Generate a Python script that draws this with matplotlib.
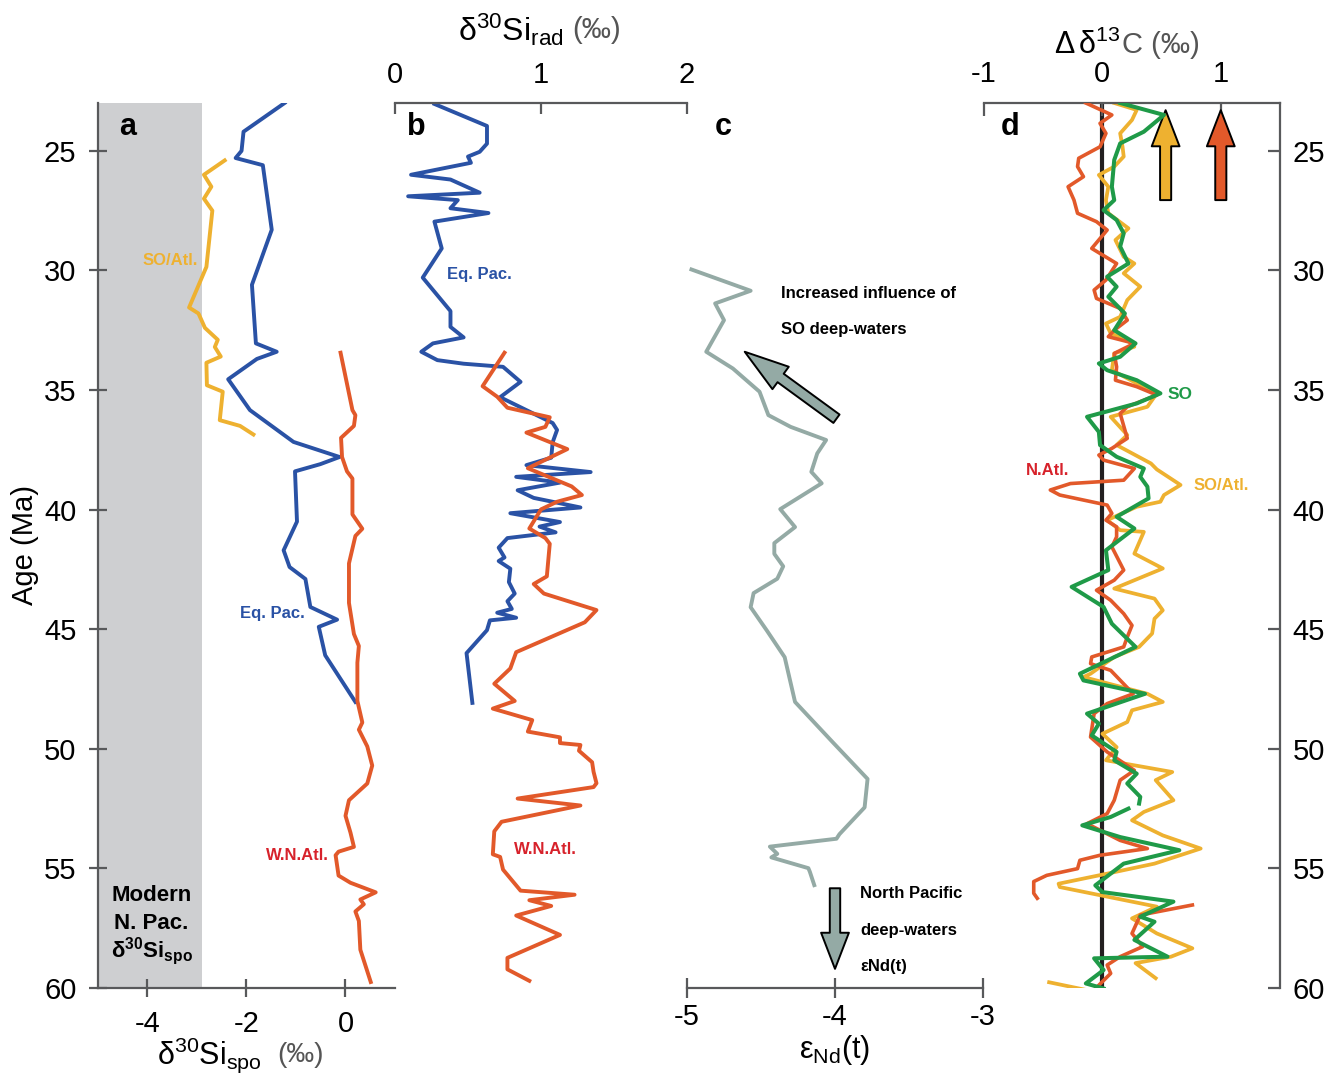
import numpy as np
import matplotlib
matplotlib.use("Agg")
import matplotlib.pyplot as plt

nan = np.nan

# ---- panel a : d30Si spo ----
a_pac_age = [23.0, 24.2, 25.0, 25.3, 25.6, 28.3, 30.6, 33.05, 33.4, 33.7, 34.55, 35.84, 37.17, 37.8,
             38.1, 38.4, 40.5, 41.7, 42.4, 42.9, 44.07, 44.6, 44.9, 46.09, 48.04]
a_pac_val = [-1.23, -2.06, -2.10, -2.22, -1.67, -1.49, -1.89, -1.81, -1.39, -1.79, -2.37, -1.93, -1.05, -0.12,
             -0.51, -1.02, -0.98, -1.25, -1.13, -0.81, -0.71, -0.17, -0.54, -0.41, 0.20]

a_so_age = [25.4, 26.0, 26.5, 27.0, 27.5, 29.85, 31.55, 31.8, 32.4, 32.9, 33.2, 33.6, 33.86, 34.8,
            35.07, 36.26, 36.5, 36.86]
a_so_val = [-2.44, -2.86, -2.71, -2.86, -2.69, -2.81, -3.16, -2.97, -2.84, -2.58, -2.64, -2.52, -2.81, -2.80,
            -2.48, -2.54, -2.13, -1.86]

a_atl_age = [33.44, 35.84, 36.05, 36.5, 37.0, 37.8, 38.4, 38.7, 40.2, 40.8, 41.1, 42.25, 43.9, 45.2,
             45.7, 46.4, 48.0, 48.9, 49.2, 49.9, 50.7, 51.45, 52.15, 52.8, 53.5, 54.1, 54.3, 54.45,
             55.3, 55.6, 56.0, 56.3, 56.5, 56.8, 57.2, 58.4, 59.75]
a_atl_val = [-0.10, 0.14, 0.20, 0.17, -0.09, -0.07, 0.03, 0.14, 0.14, 0.34, 0.20, 0.07, 0.07, 0.17,
             0.27, 0.24, 0.24, 0.34, 0.27, 0.44, 0.54, 0.44, 0.07, 0.00, 0.10, 0.17, -0.14, -0.20,
             -0.14, 0.10, 0.61, 0.30, 0.37, 0.20, 0.27, 0.30, 0.51]

modern_npac = (-5.0, -2.9)

# ---- panel b : d30Si rad ----
b_pac_age = [23.04, 23.96, 24.7, 25.04, 25.24, 25.5, 26.0, 26.2, 26.75, 26.9, 27.06, 27.4, 27.6, 27.96,
             29.08, 30.3, 31.7, 32.36, 32.8, 33.05, 33.4, 33.75, 33.9, 34.03, 34.66, 35.3, 36.38, 36.67,
             37.18, 37.83, 38.14, 38.43, 38.63, 38.87, 39.19, 39.51, 39.91, 40.15, 40.52, 40.71, 40.95,
             41.19, 41.59, 42.0, 42.15, 42.47, 43.03, 43.51, 43.83, 44.15, 44.31, 44.52, 44.63, 45.04,
             46.0, 48.08]
b_pac_val = [0.27, 0.63, 0.63, 0.58, 0.50, 0.52, 0.11, 0.38, 0.58, 0.09, 0.43, 0.38, 0.64, 0.27,
             0.32, 0.19, 0.38, 0.38, 0.47, 0.26, 0.18, 0.29, 0.47, 0.74, 0.86, 0.72, 1.08, 1.11,
             1.08, 1.07, 0.90, 1.34, 0.83, 1.13, 0.84, 0.95, 1.27, 0.79, 1.13, 0.99, 1.10,
             0.77, 0.71, 0.75, 0.71, 0.79, 0.78, 0.82, 0.77, 0.80, 0.70, 0.83, 0.65, 0.63,
             0.49, 0.53]

b_atl_age = [33.44, 34.84, 35.28, 35.74, 36.14, 36.54, 36.78, 37.47, 38.27, 39.03, 39.39, 39.67, 39.99,
             40.39, 40.79, 41.19, 41.43, 42.79, 43.11, 43.51, 44.2, 44.71, 45.96, 46.64, 47.28, 48.0,
             48.32, 48.8, 49.28, 49.52, 49.76, 49.84, 50.08, 50.56, 50.96, 51.44, 51.6, 52.08, 52.37,
             53.05, 53.45, 54.41, 54.52, 55.05, 55.93, 56.1, 56.33, 56.57, 56.97, 57.78, 58.74, 59.22,
             59.7]
b_atl_val = [0.75, 0.60, 0.70, 0.77, 1.06, 1.03, 0.90, 1.18, 0.91, 1.21, 1.28, 1.11, 1.00,
             0.96, 0.92, 1.03, 1.06, 1.04, 0.95, 1.02, 1.38, 1.30, 0.83, 0.79, 0.68, 0.82,
             0.67, 0.94, 0.91, 1.13, 1.13, 1.27, 1.26, 1.35, 1.36, 1.38, 1.36, 0.84, 1.27,
             0.73, 0.68, 0.67, 0.72, 0.74, 0.86, 1.23, 0.92, 1.07, 0.83, 1.13, 0.77, 0.77,
             0.92]

# ---- panel c : eNd ----
c_age = [29.96, 30.85, 31.38, 32.08, 33.4, 34.1, 35.07, 36.05, 36.54, 37.09, 37.65, 38.42, 38.9, 39.98,
         40.73, 41.4, 41.85, 42.37, 42.89, 43.49, 44.08, 45.06, 46.17, 48.04, 49.76, 51.26, 52.45,
         53.57, 53.76, 54.09, 54.39, 54.54, 54.99, 55.14, 55.7]
c_val = [-4.97, -4.57, -4.81, -4.75, -4.87, -4.69, -4.51, -4.45, -4.30, -4.06, -4.12, -4.16, -4.09, -4.37,
         -4.27, -4.41, -4.41, -4.35, -4.39, -4.55, -4.57, -4.46, -4.34, -4.27, -4.01, -3.78, -3.80,
         -3.97, -3.99, -4.44, -4.39, -4.43, -4.18, -4.17, -4.14]

# ---- panel d : delta d13C ----
d_natl_age = [23.0, 23.5, 23.85, 24.27, 24.83, 25.31, 25.66, 26.08, 26.5, 27.06, 27.61, 27.96, 28.31,
              29.08, 29.29, 29.71, 30.4, 30.82, 31.17, 31.59, 32.08, 32.5, 32.77, 33.05, 33.47, 34.03,
              34.59, 34.86, 35.21, 35.70, 35.98, 37.02, 37.44, 37.72, 37.93, 38.28, 38.77, 38.91, 39.18,
              39.39, 39.81, 40.16, 40.44, 40.72, 41.14, 41.56, 42.53, 42.95, 43.37, 43.79, 44.35, 44.84,
              45.33, 45.74, 46.16, 46.44, 46.72, 47.7, 48.11, 48.53, 49.51, 50.13, 50.90, 51.31, 52.15,
              52.71, 53.13, 53.83, 54.17, 54.45, 54.66, 55.01, 55.29, 55.55, 56.04, 56.25, nan, 56.53,
              56.95, 57.72, 58.27, 58.69, 59.04, 59.39, 60.03]
d_natl_val = [-0.14, 0.08, -0.02, 0.03, -0.02, -0.20, -0.21, -0.16, -0.29, -0.24, -0.21, -0.05, 0.04,
              -0.09, -0.02, 0.12, 0.03, -0.07, -0.05, 0.15, 0.21, 0.10, 0.05, 0.27, 0.10, 0.12,
              0.11, 0.29, 0.46, 0.21, 0.15, 0.21, 0.08, -0.03, 0.01, 0.27, 0.18, -0.27, -0.44,
              -0.36, 0.04, 0.08, 0.03, 0.12, 0.12, 0.08, 0.18, 0.10, -0.05, 0.07, 0.18, 0.25,
              0.21, 0.18, -0.09, -0.10, 0.07, 0.26, 0.04, -0.07, -0.10, 0.04, 0.27, 0.15, 0.10,
              0.04, -0.13, 0.15, 0.38, -0.02, -0.19, -0.21, -0.47, -0.58, -0.58, -0.55, nan, 0.76,
              0.32, 0.25, 0.34, 0.15, 0.04, 0.07, -0.06]

d_soatl_age = [23.0, 23.29, 23.71, 24.27, 24.83, 25.24, 25.66, 26.01, 26.5, 27.06, 27.61, 28.24, 28.73,
               29.43, 29.71, 30.12, 30.68, 31.24, 31.94, 32.22, 32.63, 32.91, 33.19, 33.47, 34.17, 34.72,
               35.14, 35.7, 36.12, 36.88, 37.3, 38.07, 38.32, 38.97, 39.39, 39.67, 39.88, 40.44, 40.86,
               40.93, 41.84, 42.46, 43.30, 43.72, 44.21, 44.56, 45.18, 45.74, 46.16, 46.86, 47.0, 47.7,
               48.04, 48.39, 48.88, 49.37, 49.93, 50.48, 50.97, 51.31, 52.15, 52.64, 52.99, 53.62, 54.17,
               54.80, 55.22, 55.64, 55.78, 56.18, 56.60, 57.09, 57.72, 58.34, 58.69, 58.96, 59.59, nan,
               59.76, 60.1]
d_soatl_val = [0.10, 0.29, 0.25, 0.15, 0.17, 0.18, 0.10, -0.03, 0.05, 0.03, 0.05, 0.22, 0.11,
               0.18, 0.27, 0.18, 0.32, 0.21, 0.15, 0.03, 0.07, 0.21, 0.27, 0.10, 0.08, 0.29,
               0.46, 0.38, 0.07, 0.21, 0.12, 0.41, 0.46, 0.66, 0.52, 0.49, 0.29, 0.04, 0.15,
               0.35, 0.27, 0.51, 0.10, 0.44, 0.51, 0.44, 0.42, 0.31, 0.10, -0.10, -0.16, 0.38,
               0.51, 0.25, 0.21, 0.00, 0.12, 0.03, 0.59, 0.45, 0.60, 0.35, 0.25, 0.51, 0.83,
               0.44, 0.04, -0.37, -0.36, 0.04, 0.46, 0.25, 0.46, 0.76, 0.58, 0.28, 0.45, nan,
               -0.45, -0.12]

d_so_age = [23.0, 23.5, 24.2, 24.69, 25.38, 26.5, 27.06, 27.48, 27.89, 28.45, 29.0, 29.71, 30.26, 30.68,
            31.1, 31.8, 32.5, 33.05, 33.61, 33.89, 34.17, 34.59, 35.14, 35.56, 36.12, 36.75, 37.3, 37.79,
            38.28, 38.63, 39.04, 39.53, 40.3, 40.79, 41.7, 42.53, 43.23, 44.07, 44.77, 45.74, 46.86,
            47.14, 47.7, 48.53, 48.95, 49.44, 50.13, 50.48, 51.04, 51.45, 52.01, 52.29, nan, 52.5, 52.85,
            53.2, 53.69, 54.24, 54.8, 55.71, 55.99, 56.39, 57.02, 57.23, 57.99, 58.69, 58.76, 59.25,
            59.81, 60.02]
d_so_val = [0.15, 0.52, 0.35, 0.15, 0.10, 0.08, 0.10, 0.01, 0.12, 0.18, 0.15, 0.22, 0.04, 0.12,
            0.05, 0.19, 0.10, 0.28, 0.15, -0.03, 0.04, 0.29, 0.49, 0.29, -0.13, -0.03, -0.02, 0.12,
            0.35, 0.32, 0.38, 0.39, 0.12, 0.27, 0.03, 0.05, -0.26, 0.01, 0.08, 0.28, -0.19,
            -0.16, 0.36, -0.13, -0.03, -0.09, 0.12, 0.10, 0.29, 0.21, 0.32, 0.31, nan, 0.22, 0.07,
            -0.17, 0.15, 0.65, 0.18, -0.06, 0.00, 0.60, 0.32, 0.44, 0.27, 0.55, -0.07, 0.01,
            -0.14, 0.01]

age_ticks = [25, 30, 35, 40, 45, 50, 55, 60]

# colours
BLUE = '#2A52A5'
ORANGE = '#E2592A'
YELLOW = '#EEB130'
GREEN = '#1F9A48'
TEAL = '#94AAA5'
RED = '#D7222B'
SHADE = '#CECFD1'
SPINE = '#58595B'

plt.rcParams['font.family'] = ['Liberation Sans', 'DejaVu Sans']
plt.rcParams['font.size'] = 20
plt.rcParams['mathtext.fontset'] = 'custom'
plt.rcParams['mathtext.rm'] = 'Liberation Sans'
plt.rcParams['mathtext.it'] = 'Liberation Sans:italic'
plt.rcParams['mathtext.bf'] = 'Liberation Sans:bold'

W, H = 1332, 1080
fig = plt.figure(figsize=(W / 100, H / 100), dpi=100)


def px_axes(x0, x1, y0=103, y1=988):
    return fig.add_axes([x0 / W, 1 - y1 / H, (x1 - x0) / W, (y1 - y0) / H])


def fig_text(x, y, s, **kw):
    fig.text(x / W, 1 - y / H, s, **kw)


def clean(ax, keep):
    for side in ['left', 'right', 'top', 'bottom']:
        ax.spines[side].set_visible(side in keep)
        ax.spines[side].set_color(SPINE)
        ax.spines[side].set_linewidth(1.6)
    ax.patch.set_visible(False)
    ax.set_ylim(60, 23)


# ---- a ----
ax_a = px_axes(98, 395)
clean(ax_a, ['left', 'bottom'])
ax_a.set_xlim(-5, 1)
ax_a.axvspan(*modern_npac, color=SHADE, lw=0, zorder=0)
ax_a.plot(a_so_val, a_so_age, color=YELLOW, lw=2.8)
ax_a.plot(a_pac_val, a_pac_age, color=BLUE, lw=2.8)
ax_a.plot(a_atl_val, a_atl_age, color=ORANGE, lw=2.8)
ax_a.set_xticks([-4, -2, 0])
ax_a.set_xticklabels(['-4', '-2', '0'])
ax_a.set_yticks(age_ticks)
ax_a.tick_params(axis='both', direction='inout', length=13, width=1.6, color=SPINE, labelsize=21)
ax_a.tick_params(axis='x', pad=9)
ax_a.tick_params(axis='y', pad=9)
ax_a.text(-4.41, 24.0, 'a', fontsize=22, fontweight='bold', ha='center', va='center')
ax_a.text(-3.55, 29.6, 'SO/Atl.', color=YELLOW, fontsize=12, fontweight='bold', ha='center', va='center')
ax_a.text(-1.48, 44.33, 'Eq. Pac.', color=BLUE, fontsize=12, fontweight='bold', ha='center', va='center')
ax_a.text(-0.97, 54.45, 'W.N.Atl.', color=RED, fontsize=12, fontweight='bold', ha='center', va='center')
ax_a.text(-3.92, 56.12, 'Modern', fontsize=16, fontweight='bold', ha='center', va='center')
ax_a.text(-3.92, 57.29, 'N. Pac.', fontsize=16, fontweight='bold', ha='center', va='center')
ax_a.text(-3.92, 58.47, r'$\mathbf{δ^{30}Si_{spo}}$', fontsize=16,
          ha='center', va='center')

# ---- b ----
ax_b = px_axes(395, 687)
clean(ax_b, ['top'])
ax_b.set_xlim(0, 2)
ax_b.plot(b_pac_val, b_pac_age, color=BLUE, lw=2.8)
ax_b.plot(b_atl_val, b_atl_age, color=ORANGE, lw=2.8)
ax_b.xaxis.tick_top()
ax_b.set_xticks([0, 1, 2])
ax_b.set_yticks([])
ax_b.tick_params(axis='x', direction='in', length=8, width=1.6, color=SPINE, pad=10, labelsize=21)
ax_b.text(0.144, 24.0, 'b', fontsize=22, fontweight='bold', ha='center', va='center')
ax_b.text(0.577, 30.19, 'Eq. Pac.', color=BLUE, fontsize=12, fontweight='bold', ha='center', va='center')
ax_b.text(1.027, 54.2, 'W.N.Atl.', color=RED, fontsize=12, fontweight='bold', ha='center', va='center')

# ---- c ----
ax_c = px_axes(687, 983)
clean(ax_c, ['bottom'])
ax_c.set_xlim(-5, -3)
ax_c.plot(c_val, c_age, color=TEAL, lw=2.8)
ax_c.set_xticks([-5, -4, -3])
ax_c.set_xticklabels(['-5', '-4', '-3'])
ax_c.set_yticks([])
ax_c.tick_params(axis='x', direction='inout', length=14, width=1.6, color=SPINE, pad=4, labelsize=21)
ax_c.text(-4.757, 24.0, 'c', fontsize=22, fontweight='bold', ha='center', va='center')
ax_c.annotate('', xy=(-4.61, 33.4), xytext=(-3.99, 36.2),
              arrowprops=dict(arrowstyle='simple,head_length=3.2,head_width=2.0,tail_width=0.75',
                              mutation_scale=10, fc=TEAL, ec='black', lw=1.4,
                              shrinkA=0, shrinkB=0))
ax_c.annotate('', xy=(-4.0, 59.2), xytext=(-4.0, 55.83),
              arrowprops=dict(arrowstyle='simple,head_length=2.6,head_width=2.0,tail_width=0.75',
                              mutation_scale=10, fc=TEAL, ec='black', lw=1.4,
                              shrinkA=0, shrinkB=0))
for s, age in [('Increased influence of', 30.95), ('SO deep-waters', 32.45)]:
    ax_c.text(-4.365, age, s, fontsize=12, fontweight='bold', ha='left', va='center')
for s, age in [('North Pacific', 56.04), ('deep-waters', 57.59), ('εNd(t)', 59.09)]:
    ax_c.text(-3.83, age, s, fontsize=12, fontweight='bold', ha='left', va='center')

# ---- d ----
ax_d = px_axes(984, 1280)
clean(ax_d, ['top', 'right'])
ax_d.set_xlim(-1, 1.5)
ax_d.axvline(0, color='#231F20', lw=3, zorder=1)
ax_d.plot(d_soatl_val, d_soatl_age, color=YELLOW, lw=2.7, solid_joinstyle='round', zorder=2)
ax_d.plot(d_natl_val, d_natl_age, color=ORANGE, lw=2.6, solid_joinstyle='round', zorder=3)
ax_d.plot(d_so_val, d_so_age, color=GREEN, lw=2.9, solid_joinstyle='round', zorder=4)
ax_d.xaxis.tick_top()
ax_d.set_xticks([-1, 0, 1])
ax_d.set_xticklabels(['-1', '0', '1'])
ax_d.yaxis.tick_right()
ax_d.set_yticks(age_ticks)
ax_d.tick_params(axis='both', direction='in', length=9, width=1.6, color=SPINE, labelsize=21)
ax_d.tick_params(axis='x', pad=11)
ax_d.tick_params(axis='y', pad=9)
ax_d.text(-0.78, 24.0, 'd', fontsize=22, fontweight='bold', ha='center', va='center')
for xv, col in [(0.534, YELLOW), (1.0, ORANGE)]:
    ax_d.annotate('', xy=(xv, 23.3), xytext=(xv, 27.06),
                  arrowprops=dict(arrowstyle='simple,head_length=2.6,head_width=2.0,tail_width=0.8',
                                  mutation_scale=10, fc=col, ec='black', lw=1.4,
                                  shrinkA=0, shrinkB=0))
ax_d.text(0.66, 35.17, 'SO', color=GREEN, fontsize=12.5, fontweight='bold', ha='center', va='center')
ax_d.text(-0.466, 38.35, 'N.Atl.', color=RED, fontsize=12, fontweight='bold', ha='center', va='center')
ax_d.text(1.0, 38.98, 'SO/Atl.', color=YELLOW, fontsize=12, fontweight='bold', ha='center', va='center')

# ---- axis titles ----
fig_text(25, 545, 'Age (Ma)', rotation=90, ha='center', va='center', fontsize=21)
fig_text(262, 1055, r'$\mathregular{δ^{30}Si_{spo}}$', ha='right', va='center', fontsize=22)
fig_text(277, 1055, '(‰)', ha='left', va='center', fontsize=20, color='#555555')
fig_text(564, 30, r'$\mathregular{δ^{30}Si_{rad}}$', ha='right', va='center', fontsize=23)
fig_text(572, 30, '(‰)', ha='left', va='center', fontsize=21, color='#555555')
fig_text(1121, 45, r'$\mathregular{Δ\,δ^{13}}$', ha='right', va='center', fontsize=22)
fig_text(1122, 45, 'C (‰)', ha='left', va='center', fontsize=21, color='#555555')
fig_text(835, 1050, r'$\mathregular{ε_{Nd}(t)}$', ha='center', va='center', fontsize=22)

fig.savefig('out.png', dpi=100)
